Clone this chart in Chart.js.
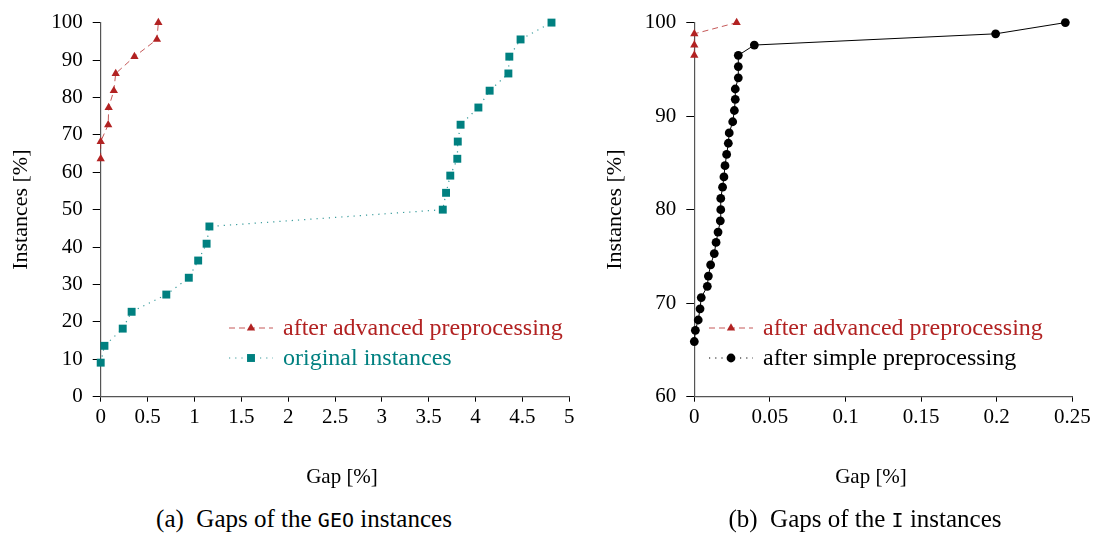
<!DOCTYPE html>
<html>
<head>
<meta charset="utf-8">
<script src="https://cdn.jsdelivr.net/npm/chart.js@4.4.1/dist/chart.umd.min.js"></script>
<style>
    body { margin: 0; background: #fff; width: 1102px; height: 535px; overflow: hidden; position: relative; }
    canvas { position: absolute; top: 0; }
    #geoCanvas { left: 0; }
    #iCanvas { left: 590px; }
    .label { position: absolute; font-family: "Liberation Serif", serif; color: #000; text-align: center; white-space: nowrap; }
    .xtitle { top: 462px; width: 200px; font-size: 21px; line-height: 28px; }
    .caption { top: 504px; width: 400px; font-size: 25px; line-height: 30px; }
    .caption code { font-family: "DejaVu Sans Mono", monospace; font-size: 20px; }
</style>
</head>
<body>
<canvas id="geoCanvas" width="600" height="500"></canvas>
<canvas id="iCanvas" width="512" height="500"></canvas>
<div class="label xtitle" style="left: 242px;">Gap [%]</div>
<div class="label xtitle" style="left: 771px;">Gap [%]</div>
<div class="label caption" style="left: 104px;">(a)&nbsp; Gaps of the <code>GEO</code> instances</div>
<div class="label caption" style="left: 665px;">(b)&nbsp; Gaps of the <code>I</code> instances</div>
<script>
// GEO instances (left plot)
const geoAdvancedGap = [0, 0, 0.08, 0.085, 0.14, 0.16, 0.36, 0.60, 0.615];
const geoAdvancedInst = [63.6, 68.2, 72.7, 77.3, 81.8, 86.4, 90.9, 95.5, 100];
const geoOriginalGap = [0, 0.04, 0.235, 0.33, 0.70, 0.94, 1.04, 1.13, 1.16, 3.65, 3.685, 3.73, 3.805, 3.81, 3.84, 4.03, 4.15, 4.35, 4.36, 4.48, 4.81];
const geoOriginalInst = [9.1, 13.6, 18.2, 22.7, 27.3, 31.8, 36.4, 40.9, 45.5, 50, 54.5, 59.1, 63.6, 68.2, 72.7, 77.3, 81.8, 86.4, 90.9, 95.5, 100];

// I instances (right plot)
const iAdvancedGap = [0, 0, 0, 0.028];
const iAdvancedInst = [96.5, 97.6, 98.8, 100];
const iSimpleGap = [0, 0.0007, 0.0026, 0.0038, 0.0046, 0.0086, 0.0093, 0.0108, 0.0132, 0.0144, 0.0157, 0.0172, 0.0175, 0.0175, 0.0187, 0.0196, 0.0203, 0.0214, 0.0225, 0.0231, 0.0254, 0.0265, 0.0271, 0.0271, 0.0291, 0.0291, 0.0291, 0.0397, 0.1993, 0.2454];
const iSimpleInst = [65.9, 67.1, 68.2, 69.4, 70.6, 71.8, 72.9, 74.1, 75.3, 76.5, 77.6, 78.8, 80.0, 81.2, 82.4, 83.5, 84.7, 85.9, 87.1, 88.2, 89.4, 90.6, 91.8, 92.9, 94.1, 95.3, 96.5, 97.6, 98.8, 100];

const RED = 'rgb(178, 34, 34)';
const TEAL = 'rgb(0, 128, 128)';
const FONT = 'Liberation Serif';

function points(xs, ys) {
    return xs.map((x, i) => ({ x: x, y: ys[i] }));
}

function drawMarker(ctx, style, r, x, y, color) {
    ctx.save();
    ctx.fillStyle = color;
    ctx.beginPath();
    if (style === 'triangle') {
        ctx.moveTo(x, y - r);
        ctx.lineTo(x + r * 0.866, y + r * 0.5);
        ctx.lineTo(x - r * 0.866, y + r * 0.5);
        ctx.closePath();
    } else if (style === 'rect') {
        const s = r * Math.SQRT1_2;
        ctx.rect(x - s, y - s, 2 * s, 2 * s);
    } else {
        ctx.arc(x, y, r, 0, Math.PI * 2);
    }
    ctx.fill();
    ctx.restore();
}

// legend drawn inside the plot area, like the pgfplots one
const insideLegend = {
    id: 'insideLegend',
    afterDraw(chart, args, opts) {
        const ctx = chart.ctx;
        chart.data.datasets.forEach((ds, i) => {
            const y = opts.y + i * opts.rowGap;
            ctx.save();
            ctx.strokeStyle = ds.borderColor;
            ctx.lineWidth = 1;
            ctx.setLineDash(ds.legendDash || []);
            ctx.beginPath();
            ctx.moveTo(opts.x, y);
            ctx.lineTo(opts.x + 44, y);
            ctx.stroke();
            ctx.restore();
            drawMarker(ctx, ds.pointStyle, ds.pointRadius, opts.x + 22, y, ds.pointBackgroundColor);
            ctx.save();
            ctx.fillStyle = ds.legendColor;
            ctx.font = '24px "' + FONT + '"';
            ctx.textBaseline = 'middle';
            ctx.fillText(ds.label, opts.x + 54, y + 1);
            ctx.restore();
        });
    }
};

function fmt(v) {
    return String(Number(v.toFixed(3)));
}

function axes(xMin, xMax, xStep, yMin, yMax, yStep, yWidth, yTitlePad) {
    const tickFont = { family: FONT, size: 21 };
    return {
        x: {
            type: 'linear', min: xMin, max: xMax,
            afterFit: (scale) => { scale.height = 103.3; },
            border: { color: '#555', width: 1.2 },
            grid: { drawOnChartArea: false, tickLength: 5, color: '#000' },
            ticks: { stepSize: xStep, color: '#000', font: tickFont, padding: 3, maxRotation: 0, callback: fmt }
        },
        y: {
            type: 'linear', min: yMin, max: yMax,
            afterFit: (scale) => { scale.width = yWidth; },
            border: { color: '#555', width: 1.2 },
            grid: { drawOnChartArea: false, tickLength: 8, color: '#000' },
            ticks: { stepSize: yStep, color: '#000', font: tickFont, padding: 10, callback: fmt },
            title: { display: true, text: 'Instances [%]', color: '#000', font: { family: FONT, size: 22 }, padding: { top: yTitlePad, bottom: 4 } }
        }
    };
}

new Chart(document.getElementById('geoCanvas'), {
    type: 'scatter',
    data: {
        datasets: [{
            label: 'after advanced preprocessing',
            data: points(geoAdvancedGap, geoAdvancedInst),
            showLine: true,
            borderColor: 'rgba(178, 34, 34, 0.75)',
            borderWidth: 1,
            borderDash: [6, 4],
            legendDash: [6, 4],
            legendColor: RED,
            pointStyle: 'triangle',
            pointRadius: 4.8,
            pointBorderWidth: 0,
            pointBackgroundColor: RED,
            clip: false
        }, {
            label: 'original instances',
            data: points(geoOriginalGap, geoOriginalInst),
            showLine: true,
            borderColor: 'rgba(0, 128, 128, 0.8)',
            borderWidth: 1.2,
            borderDash: [1.2, 5],
            legendDash: [1.2, 5],
            legendColor: TEAL,
            pointStyle: 'rect',
            pointRadius: 5.6,
            pointBorderWidth: 0,
            pointBackgroundColor: TEAL,
            clip: false
        }]
    },
    options: {
        responsive: false,
        animation: false,
        layout: { padding: { left: 0, right: 30.7, top: 19, bottom: 0 } },
        scales: axes(0, 5, 0.5, 0, 100, 10, 100.7, 7.8),
        plugins: {
            legend: { display: false },
            tooltip: { enabled: false },
            insideLegend: { x: 229, y: 328, rowGap: 30 }
        }
    },
    plugins: [insideLegend]
});

new Chart(document.getElementById('iCanvas'), {
    type: 'scatter',
    data: {
        datasets: [{
            label: 'after advanced preprocessing',
            data: points(iAdvancedGap, iAdvancedInst),
            showLine: true,
            borderColor: 'rgba(178, 34, 34, 0.75)',
            borderWidth: 1,
            borderDash: [6, 4],
            legendDash: [6, 4],
            legendColor: RED,
            pointStyle: 'triangle',
            pointRadius: 4.8,
            pointBorderWidth: 0,
            pointBackgroundColor: RED,
            clip: false
        }, {
            label: 'after simple preprocessing',
            data: points(iSimpleGap, iSimpleInst),
            showLine: true,
            borderColor: '#000',
            borderWidth: 1,
            legendDash: [1.2, 5],
            legendColor: '#000',
            pointStyle: 'circle',
            pointRadius: 4.4,
            pointBorderWidth: 0,
            pointBackgroundColor: '#000',
            clip: false
        }]
    },
    options: {
        responsive: false,
        animation: false,
        layout: { padding: { left: 0, right: 29.7, top: 19, bottom: 0 } },
        scales: axes(0, 0.25, 0.05, 60, 100, 10, 104.3, 12.3),
        plugins: {
            legend: { display: false },
            tooltip: { enabled: false },
            insideLegend: { x: 119, y: 328, rowGap: 30 }
        }
    },
    plugins: [insideLegend]
});
</script>
</body>
</html>
